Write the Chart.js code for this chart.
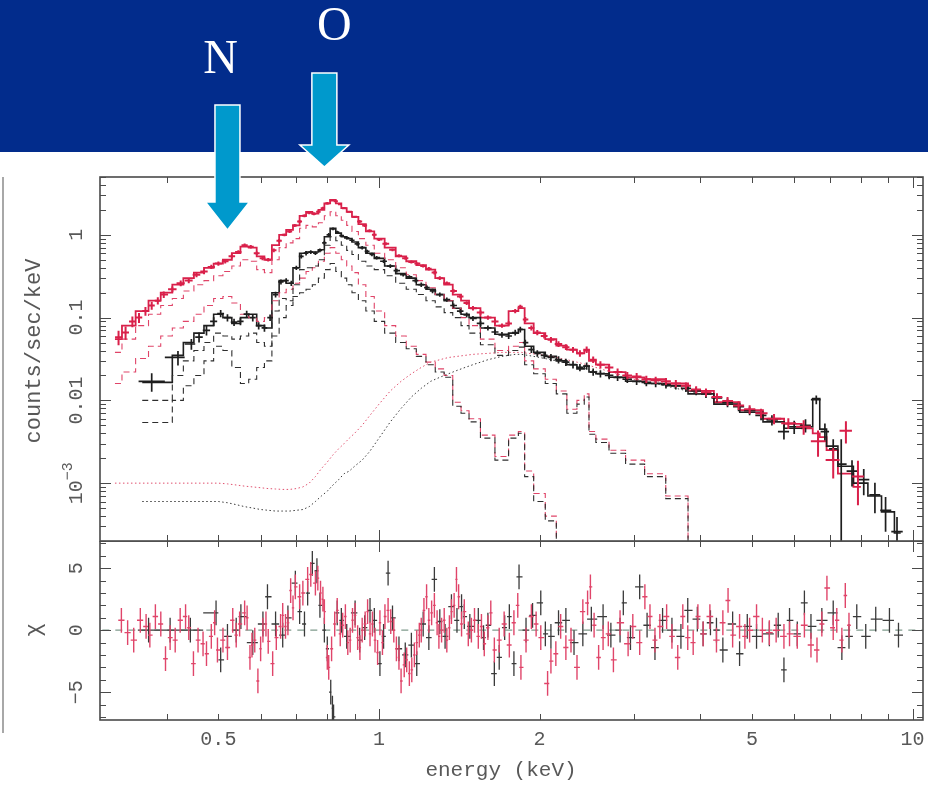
<!DOCTYPE html>
<html>
<head>
<meta charset="utf-8">
<script src="https://cdn.jsdelivr.net/npm/chart.js@4.4.1/dist/chart.umd.min.js"></script>
<style>
  body { margin: 0; background: #fff; width: 928px; height: 787px; overflow: hidden; position: relative; }
  #banner { position: absolute; left: 0; top: 0; width: 928px; height: 152px; background: #022c8c; }
  #edge { position: absolute; left: 2px; top: 177px; width: 2px; height: 556px; background: #a8a8a8; }
  canvas { position: absolute; left: 0; }
  #spec { top: 0; }
  #resid { top: 541px; }
</style>
</head>
<body>
<div id="banner"></div>
<div id="edge"></div>
<canvas id="spec" width="928" height="542"></canvas>
<canvas id="resid" width="928" height="246"></canvas>
<script>
// model grid (keV) shared by all model curves
const modelE = [0.32,0.34,0.36,0.38,0.40,0.42,0.44,0.46,0.48,0.50,
  0.52,0.54,0.56,0.58,0.60,0.62,0.64,0.66,0.68,0.70,
  0.72,0.74,0.76,0.78,0.80,0.82,0.84,0.86,0.88,0.90,
  0.93,0.96,1.00,1.05,1.10,1.15,1.20,1.25,1.30,1.35,
  1.40,1.45,1.50,1.60,1.70,1.80,1.85,1.90,2.00,2.10,
  2.20,2.30,2.40,2.45,2.50,2.60,2.80,3.00,3.30,3.60,
  4.00,4.50,5.00,5.50,6.00,6.40,6.60,6.80,7.00,7.50,
  8.00,8.50,9.00,9.50];

const redTotal = [0.055,0.08,0.12,0.16,0.2,0.25,0.3,0.35,0.4,0.45,
  0.5,0.6,0.72,0.7,0.55,0.5,0.75,1.0,1.15,1.3,
  1.7,1.9,1.8,2.0,2.4,2.65,2.4,2.1,1.9,1.65,
  1.35,1.1,0.9,0.7,0.55,0.48,0.43,0.38,0.3,0.25,
  0.19,0.16,0.13,0.1,0.08,0.12,0.13,0.085,0.065,0.055,
  0.046,0.041,0.037,0.04,0.03,0.027,0.022,0.019,0.018,0.016,
  0.013,0.0095,0.0076,0.006,0.0052,0.0046,0.004,0.0036,0.0025,0.0013,
  0.0009,null,null,null];
const redMid = [0.038,0.055,0.08,0.11,0.14,0.17,0.21,0.25,0.28,0.32,
  0.36,0.42,0.5,0.48,0.38,0.35,0.5,0.7,0.8,0.9,
  1.2,1.3,1.25,1.4,1.7,1.9,1.7,1.5,1.3,1.1,
  0.9,0.75,0.6,0.5,0.4,0.33,0.28,0.23,0.19,0.16,
  0.13,0.1,0.08,0.055,0.04,0.045,0.05,0.03,0.024,0.018,
  0.013,0.0078,0.01,0.012,0.0042,0.0034,0.0025,0.0019,0.0013,0.0007,
  0.00018,null,null,null,null,null,null,null,null,null,
  null,null,null,null];
const redSoft = [0.016,0.022,0.032,0.045,0.06,0.075,0.09,0.11,0.14,0.17,
  0.18,0.15,0.11,0.1,0.09,0.1,0.16,0.2,0.22,0.26,
  0.3,0.36,0.4,0.48,0.6,0.7,0.6,0.5,0.42,0.35,
  0.25,0.18,0.12,0.08,0.06,0.045,0.036,0.029,0.024,0.02,
  0.0095,0.0075,0.006,0.0038,0.0021,0.0038,0.0042,0.0014,0.00075,0.0004,
  0.00017,null,null,null,null,null,null,null,null,null,
  null,null,null,null,null,null,null,null,null,null,
  null,null,null,null];
const redHot = [0.001,0.001,0.001,0.001,0.001,0.001,0.001,0.001,0.001,0.001,
  0.00098,0.00095,0.00092,0.0009,0.00088,0.00086,0.00085,0.00084,0.00084,0.00086,
  0.0009,0.001,0.0012,0.0015,0.0018,0.0022,0.0026,0.003,0.0035,0.004,
  0.005,0.0065,0.009,0.013,0.017,0.021,0.025,0.029,0.031,0.033,
  0.034,0.035,0.036,0.037,0.038,0.038,0.038,0.037,0.036,0.034,
  0.032,0.03,0.028,0.027,0.026,0.024,0.021,0.018,0.017,0.015,
  0.012,null,null,null,null,null,null,null,null,null,
  null,null,null,null];

const blackTotal = [null,null,0.0165,0.0165,0.0165,0.035,0.05,0.065,0.08,0.11,
  0.1,0.085,0.1,0.11,0.08,0.075,0.2,0.28,0.26,0.4,
  0.6,0.62,0.62,0.66,0.95,1.2,1.05,0.95,0.9,0.82,
  0.7,0.6,0.52,0.42,0.34,0.3,0.25,0.22,0.19,0.16,
  0.13,0.11,0.1,0.075,0.063,0.065,0.072,0.045,0.038,0.034,
  0.03,0.027,0.024,0.026,0.022,0.021,0.019,0.017,0.016,0.015,
  0.012,0.009,0.0072,0.0055,0.0046,0.0048,0.0105,0.0045,0.0028,0.0016,
  0.001,0.0007,0.00045,0.00025];
const blackMid = [null,null,0.01,0.01,0.01,0.02,0.03,0.04,0.05,0.065,
  0.06,0.055,0.06,0.065,0.05,0.045,0.12,0.17,0.16,0.25,
  0.38,0.4,0.42,0.5,0.75,0.95,0.85,0.75,0.65,0.58,
  0.48,0.42,0.38,0.32,0.26,0.22,0.19,0.16,0.135,0.115,
  0.1,0.08,0.065,0.047,0.035,0.04,0.044,0.027,0.021,0.016,
  0.012,0.007,0.009,0.011,0.0039,0.0031,0.0023,0.0017,0.0012,0.00065,
  0.00016,null,null,null,null,null,null,null,null,null,
  null,null,null,null];
const blackSoft = [null,null,0.0054,0.0054,0.0054,0.01,0.015,0.02,0.03,0.045,
  0.04,0.025,0.016,0.018,0.025,0.03,0.06,0.1,0.14,0.18,
  0.2,0.22,0.25,0.3,0.38,0.45,0.36,0.3,0.25,0.2,
  0.16,0.12,0.09,0.065,0.05,0.042,0.034,0.027,0.022,0.019,
  0.0085,0.007,0.0055,0.0035,0.0019,0.0035,0.004,0.0012,0.0006,0.00035,
  0.00015,null,null,null,null,null,null,null,null,null,
  null,null,null,null,null,null,null,null,null,null,
  null,null,null,null];
const blackHot = [null,null,0.0006,0.0006,0.0006,0.0006,0.0006,0.0006,0.0006,0.0006,
  0.00058,0.00055,0.00052,0.0005,0.00048,0.00047,0.00046,0.00046,0.00046,0.00047,
  0.00048,0.00052,0.0006,0.0007,0.0008,0.00095,0.0011,0.0013,0.0014,0.0016,
  0.0019,0.0024,0.0035,0.0055,0.008,0.011,0.014,0.017,0.019,0.021,
  0.023,0.025,0.027,0.031,0.034,0.036,0.036,0.035,0.033,0.031,
  0.029,0.027,0.025,0.024,0.023,0.022,0.019,0.017,0.016,0.014,
  0.012,null,null,null,null,null,null,null,null,null,
  null,null,null,null];

// binned counts with relative errors
const redE = [0.325,0.335,0.345,0.355,0.365,0.375,0.385,0.395,0.41,0.425,
  0.44,0.455,0.47,0.485,0.50,0.515,0.53,0.545,0.56,0.575,
  0.59,0.605,0.62,0.635,0.65,0.665,0.68,0.695,0.71,0.725,
  0.74,0.755,0.77,0.785,0.80,0.815,0.83,0.845,0.86,0.88,
  0.90,0.92,0.94,0.96,0.98,1.00,1.03,1.06,1.09,1.12,
  1.15,1.18,1.21,1.24,1.27,1.30,1.34,1.38,1.42,1.46,
  1.50,1.55,1.60,1.65,1.70,1.75,1.80,1.84,1.88,1.93,
  1.98,2.04,2.10,2.17,2.24,2.31,2.38,2.45,2.52,2.60,
  2.70,2.80,2.92,3.04,3.17,3.30,3.45,3.60,3.76,3.93,
  4.10,4.30,4.50,4.72,4.95,5.20,5.50,5.85,6.25,6.65,
  7.10,7.50,7.90];
const redCts = [0.058,0.066,0.09,0.1,0.12,0.14,0.16,0.19,0.22,0.26,
  0.28,0.33,0.36,0.41,0.45,0.48,0.55,0.62,0.75,0.72,
  0.6,0.52,0.5,0.65,0.85,1.0,1.1,1.3,1.45,1.7,
  1.85,1.8,1.9,2.1,2.4,2.6,2.55,2.35,2.1,1.9,
  1.65,1.45,1.3,1.12,1.0,0.88,0.78,0.66,0.56,0.52,
  0.47,0.45,0.42,0.39,0.35,0.3,0.26,0.21,0.18,0.15,
  0.13,0.115,0.1,0.09,0.08,0.085,0.12,0.135,0.095,0.075,
  0.066,0.06,0.054,0.048,0.044,0.041,0.037,0.041,0.031,0.027,
  0.025,0.022,0.02,0.0195,0.018,0.0175,0.017,0.016,0.015,0.0135,
  0.0125,0.011,0.0098,0.0087,0.0078,0.007,0.006,0.0053,0.0048,0.0032,
  0.0019,0.0043,0.0012];
const redErr = [0.2,0.18,0.15,0.14,0.12,0.11,0.1,0.09,0.08,0.08,
  0.07,0.07,0.07,0.06,0.06,0.06,0.06,0.05,0.05,0.05,
  0.05,0.05,0.05,0.05,0.05,0.04,0.04,0.04,0.04,0.04,
  0.04,0.04,0.04,0.04,0.04,0.03,0.03,0.03,0.03,0.03,
  0.03,0.04,0.04,0.04,0.04,0.04,0.04,0.04,0.04,0.04,
  0.04,0.04,0.04,0.05,0.05,0.05,0.05,0.05,0.05,0.05,
  0.06,0.06,0.06,0.06,0.06,0.06,0.06,0.06,0.07,0.07,
  0.07,0.07,0.08,0.08,0.08,0.08,0.09,0.09,0.09,0.1,
  0.1,0.1,0.1,0.1,0.1,0.1,0.1,0.1,0.1,0.1,
  0.11,0.11,0.12,0.12,0.12,0.13,0.14,0.15,0.2,0.35,
  0.4,0.3,0.55];

const blackE = [0.375,0.42,0.445,0.46,0.475,0.49,0.505,0.52,0.535,0.55,
  0.565,0.58,0.595,0.61,0.625,0.64,0.655,0.67,0.685,0.70,
  0.715,0.73,0.745,0.76,0.775,0.79,0.805,0.82,0.835,0.85,
  0.87,0.89,0.91,0.93,0.95,0.97,0.99,1.02,1.05,1.08,
  1.11,1.14,1.17,1.20,1.23,1.26,1.30,1.34,1.38,1.42,
  1.46,1.50,1.55,1.60,1.65,1.70,1.75,1.80,1.84,1.88,
  1.93,1.98,2.04,2.10,2.17,2.24,2.31,2.38,2.45,2.52,
  2.60,2.70,2.80,2.92,3.04,3.17,3.30,3.45,3.60,3.76,
  3.93,4.10,4.30,4.50,4.72,4.95,5.20,5.45,5.74,6.00,
  6.30,6.60,6.85,7.10,7.35,7.70,8.10,8.50,8.90,9.35];
const blackCts = [0.017,0.033,0.048,0.058,0.07,0.09,0.112,0.1,0.088,0.09,
  0.11,0.1,0.08,0.075,0.1,0.19,0.27,0.28,0.26,0.4,
  0.55,0.6,0.62,0.6,0.65,0.8,1.0,1.18,1.08,0.98,
  0.92,0.86,0.78,0.7,0.63,0.58,0.53,0.48,0.42,0.37,
  0.33,0.31,0.28,0.25,0.23,0.21,0.19,0.165,0.14,0.12,
  0.108,0.098,0.085,0.075,0.067,0.062,0.06,0.066,0.072,0.05,
  0.041,0.037,0.035,0.033,0.031,0.029,0.027,0.025,0.026,0.022,
  0.021,0.02,0.019,0.018,0.017,0.0165,0.016,0.0155,0.015,0.014,
  0.013,0.012,0.0107,0.0094,0.0084,0.0075,0.0066,0.0058,0.0042,0.0048,
  0.005,0.0102,0.0042,0.0026,0.0017,0.0014,0.0011,0.00072,0.00047,0.00026];
const blackErr = [0.25,0.2,0.15,0.14,0.13,0.12,0.1,0.1,0.1,0.1,
  0.1,0.1,0.1,0.1,0.09,0.08,0.07,0.07,0.07,0.06,
  0.06,0.06,0.05,0.05,0.05,0.05,0.05,0.04,0.04,0.04,
  0.04,0.04,0.05,0.05,0.05,0.05,0.05,0.05,0.05,0.05,
  0.05,0.05,0.05,0.06,0.06,0.06,0.06,0.06,0.06,0.06,
  0.07,0.07,0.07,0.07,0.07,0.08,0.08,0.08,0.08,0.08,
  0.09,0.09,0.09,0.1,0.1,0.1,0.1,0.1,0.1,0.1,
  0.1,0.1,0.1,0.1,0.1,0.1,0.1,0.1,0.1,0.1,
  0.11,0.11,0.11,0.12,0.12,0.12,0.13,0.14,0.2,0.18,
  0.18,0.12,0.25,0.3,0.99,0.35,0.35,0.4,0.45,0.5];

// residuals in units of sigma
const redResE = [0.329,0.338,0.347,0.357,0.366,0.372,0.381,0.39,0.398,0.406,
  0.415,0.424,0.434,0.44,0.449,0.458,0.468,0.475,0.485,0.492,
  0.498,0.51,0.52,0.532,0.54,0.548,0.56,0.566,0.573,0.578,
  0.585,0.593,0.6,0.606,0.614,0.62,0.632,0.642,0.654,0.66,
  0.668,0.675,0.683,0.69,0.697,0.71,0.72,0.735,0.745,0.76,
  0.768,0.777,0.785,0.79,0.8,0.805,0.815,0.826,0.835,0.846,
  0.855,0.865,0.874,0.883,0.892,0.902,0.912,0.921,0.93,0.942,
  0.952,0.962,0.972,0.983,0.994,1.004,1.015,1.026,1.04,1.052,
  1.066,1.078,1.09,1.1,1.115,1.127,1.14,1.152,1.165,1.177,
  1.19,1.2,1.214,1.228,1.24,1.255,1.27,1.285,1.295,1.31,
  1.325,1.34,1.355,1.367,1.383,1.397,1.41,1.428,1.445,1.47,
  1.49,1.51,1.535,1.556,1.575,1.6,1.62,1.645,1.68,1.716,
  1.755,1.79,1.82,1.845,1.886,1.93,1.97,2.01,2.07,2.1,
  2.145,2.19,2.24,2.29,2.35,2.41,2.46,2.49,2.53,2.58,
  2.63,2.69,2.75,2.83,2.93,2.99,3.08,3.15,3.22,3.29,
  3.36,3.46,3.54,3.63,3.71,3.79,3.88,3.96,4.05,4.17,
  4.29,4.41,4.51,4.6,4.74,4.85,4.95,5.1,5.23,5.39,
  5.55,5.74,5.88,6.08,6.27,6.45,6.62,6.76,6.91,7.1,
  7.21,7.37,7.48,7.6];
const redResChi = [0.8,-0.2,-0.8,0.8,0.3,-0.4,1.1,0.5,-2.3,-0.6,
  -0.8,0.8,1.1,0.2,-2.7,-0.8,-1.1,-1.9,-0.5,0.6,
  -1.6,-0.8,-1.4,0.8,-0.4,0.5,1.4,1.0,-2.2,-1.2,
  -0.8,-4.1,-1.5,0,0.5,-0.9,-2.7,-0.6,0.3,1.2,
  0.3,0.6,3.2,1.8,3.5,2.7,3.0,4.1,4.5,3.8,
  4.2,3.0,2.5,1.5,-2.2,-3.0,-1.5,0.5,1.6,-0.3,
  0.4,1.1,-1.0,-0.8,0.8,1.2,-0.6,-1.4,0,0.5,
  1.5,-0.3,0.5,-0.8,-1.8,0.6,-1.0,1.1,1.6,0.7,
  0,-1.5,-2.2,-4.1,-2.8,-2.4,-3.5,-3.2,-2.0,-1.0,
  -0.4,0,1.6,2.7,0.8,1.4,2.0,0.6,-0.5,0,
  0.8,-0.8,0.2,1.5,2.0,4.1,2.7,0.5,1.5,-0.3,
  0,0.8,-0.5,0.3,-1.1,0.2,1.4,-1.6,-0.8,0.5,
  -1.2,0.6,2.0,-3.0,-0.8,1.1,0.5,-0.6,-4.3,-2.5,
  -1.9,0.3,-1.4,-0.8,-3.0,1.5,2.2,3.5,0.4,-2.2,
  -0.6,-0.3,-2.4,0.6,-1.1,0.3,-1.0,2.7,1.1,-0.8,
  0.3,1.1,-0.5,-2.2,1.1,-0.6,-1.0,1.1,-0.3,1.1,
  -0.8,0.6,2.4,-0.4,0.3,-0.5,0,1.1,0,-0.2,
  0,-0.5,-0.3,-0.5,0.4,-1.2,-1.6,0.5,3.4,0.2,
  0.8,-0.8,2.8,0.4];

const blackResE = [0.37,0.406,0.443,0.495,0.505,0.52,0.54,0.551,0.58,0.606,
  0.618,0.64,0.66,0.675,0.697,0.71,0.725,0.735,0.75,0.765,
  0.775,0.79,0.8,0.812,0.818,0.822,0.835,0.85,0.87,0.902,
  0.92,0.94,0.962,0.98,1.004,1.02,1.04,1.06,1.09,1.12,
  1.15,1.177,1.21,1.24,1.27,1.3,1.33,1.367,1.4,1.428,
  1.445,1.48,1.535,1.57,1.6,1.645,1.68,1.72,1.755,1.79,
  1.83,1.886,1.94,2.01,2.05,2.1,2.17,2.24,2.32,2.41,
  2.5,2.63,2.72,2.83,2.87,2.96,3.08,3.18,3.29,3.4,
  3.54,3.68,3.79,3.95,4.05,4.18,4.29,4.41,4.6,4.74,
  4.9,5.1,5.39,5.6,5.74,5.88,6.08,6.27,6.45,6.76,
  7.1,7.37,7.6,7.86,8.17,8.53,9.05,9.41];
const blackResChi = [0,0,0,1.4,-2.4,-0.5,0,1.1,-1.0,0.5,
  2.7,0.5,-0.4,1.0,3.8,1.5,0.5,3.0,5.4,4.8,
  2.0,0,-1.5,-5.0,-6.3,-7.0,1.4,0.8,-0.5,1.4,
  -0.8,0.2,1.6,0.8,-2.7,-0.5,4.6,1.0,-1.5,-2.0,
  -1.2,-2.7,0.5,-0.6,4.1,0.7,-0.5,1.9,0.8,1.9,
  1.1,0.3,0.8,-0.6,0.4,-3.5,-2.2,0.2,1.1,-2.7,
  4.3,0,1.2,2.2,-0.3,-0.5,0.6,0.8,-1.0,-0.3,
  0.9,1.1,-0.4,0,2.2,-0.6,3.5,0.4,-1.4,0.8,
  0,-0.5,1.6,0.9,-0.3,0.6,0,-1.6,0.5,-1.9,
  0.3,-0.5,-0.3,0.4,-3.2,0.8,-0.3,2.2,0.3,0.8,
  1.4,-1.4,-0.5,1.1,-0.5,0.9,0.8,-0.4];

// line identifications marked above the spectrum
const lineNames = ['N', 'O'];
const lineEnergy = [0.52, 0.79];

// axis ranges
const E_MIN = 0.303, E_MAX = 10.46;
const RATE_MIN = 2e-4, RATE_MAX = 5;
const CHI_MIN = -7.25, CHI_MAX = 7.2;

const FONT = '"Liberation Mono", "DejaVu Sans Mono", monospace';
const INK = '#4a4a4a';
const TEXT = '#585858';
const RED = '#d9204a';
const BLACK = '#1e1e1e';

const pairs = (xs, ys) => xs.map((x, i) => ({ x, y: ys[i] }));
const countPoints = (xs, ys, err) => xs.map((x, i) => ({
  x, y: ys[i], lo: Math.max(ys[i] * (1 - err[i]), 1e-6), hi: ys[i] * (1 + err[i])
}));
const chiPoints = (xs, ys) => xs.map((x, i) => ({ x, y: ys[i], lo: ys[i] - 1, hi: ys[i] + 1 }));

// data crosses: horizontal bar spans half way to each neighbouring bin
const crossPlugin = {
  id: 'crosses',
  afterDatasetsDraw(chart) {
    const { ctx, chartArea: a } = chart;
    const xs = chart.scales.x, ys = chart.scales.y;
    ctx.save();
    ctx.beginPath();
    ctx.rect(a.left, a.top, a.width, a.height);
    ctx.clip();
    chart.data.datasets.forEach(ds => {
      if (!ds.crosses) return;
      const pts = ds.data;
      const px = pts.map(p => xs.getPixelForValue(p.x));
      ctx.strokeStyle = ds.borderColor;
      ctx.lineWidth = ds.crossWidth;
      ctx.beginPath();
      pts.forEach((p, i) => {
        const l = i > 0 ? (px[i] + px[i - 1]) / 2 : px[i] - (px[i + 1] - px[i]) / 2;
        const r = i < pts.length - 1 ? (px[i] + px[i + 1]) / 2 : px[i] + (px[i] - px[i - 1]) / 2;
        const py = ys.getPixelForValue(p.y);
        ctx.moveTo(l, py);
        ctx.lineTo(r, py);
        ctx.moveTo(px[i], ys.getPixelForValue(p.lo));
        ctx.lineTo(px[i], ys.getPixelForValue(p.hi));
      });
      ctx.stroke();
    });
    ctx.restore();
  }
};

function rotatedText(ctx, text, x, y, size) {
  ctx.save();
  ctx.translate(x, y);
  ctx.rotate(-Math.PI / 2);
  ctx.font = size + 'px ' + FONT;
  ctx.textAlign = 'center';
  ctx.textBaseline = 'middle';
  ctx.fillText(text, 0, 0);
  ctx.restore();
}

// boxed frame with inward ticks on all four sides, plus labels
function framePlugin(cfg) {
  return {
    id: 'frame_' + cfg.name,
    afterDraw(chart) {
      const { ctx, chartArea: a } = chart;
      const xs = chart.scales.x, ys = chart.scales.y;
      ctx.save();
      ctx.strokeStyle = INK;
      ctx.lineWidth = 1;
      ctx.beginPath();
      cfg.xTicks.forEach(([v, len]) => {
        const px = Math.round(xs.getPixelForValue(v)) + 0.5;
        ctx.moveTo(px, a.top); ctx.lineTo(px, a.top + len);
        ctx.moveTo(px, a.bottom); ctx.lineTo(px, a.bottom - len);
      });
      cfg.yTicks.forEach(([v, len]) => {
        const py = Math.round(ys.getPixelForValue(v)) + 0.5;
        ctx.moveTo(a.left, py); ctx.lineTo(a.left + len, py);
        ctx.moveTo(a.right, py); ctx.lineTo(a.right - len, py);
      });
      ctx.stroke();
      ctx.lineWidth = 1.6;
      ctx.strokeRect(a.left, a.top, a.width, a.height);

      ctx.fillStyle = TEXT;
      cfg.yLabels.forEach(([v, main, sup]) => {
        const py = ys.getPixelForValue(v);
        if (!sup) { rotatedText(ctx, main, 77, py, 20); return; }
        ctx.save();
        ctx.translate(77, py);
        ctx.rotate(-Math.PI / 2);
        ctx.textBaseline = 'middle';
        ctx.textAlign = 'left';
        ctx.font = '20px ' + FONT;
        const w1 = ctx.measureText(main).width;
        ctx.font = '15px ' + FONT;
        const w2 = ctx.measureText(sup).width;
        const x0 = -(w1 + w2) / 2;
        ctx.font = '20px ' + FONT;
        ctx.fillText(main, x0, 0);
        ctx.font = '15px ' + FONT;
        ctx.fillText(sup, x0 + w1, -9);
        ctx.restore();
      });
      ctx.font = '20px ' + FONT;
      ctx.textAlign = 'center';
      ctx.textBaseline = 'middle';
      cfg.xLabels.forEach(([v, t]) => ctx.fillText(t, xs.getPixelForValue(v), a.bottom + 20));
      if (cfg.xTitle) {
        ctx.font = '21px ' + FONT;
        ctx.fillText(cfg.xTitle, 501, a.bottom + 50);
      }
      rotatedText(ctx, cfg.yTitle, 34, cfg.yTitleY, 22);
      ctx.restore();
    }
  };
}

// arrows and element names in the header band
const markerPlugin = {
  id: 'markers',
  afterDraw(chart) {
    const { ctx } = chart;
    const xs = chart.scales.x;
    const shapes = [
      { top: 105, headTop: 202, tip: 230, shaft: 25, head: 44, dx: -7, base: 73 },
      { top: 73, headTop: 145, tip: 167, shaft: 25, head: 49, dx: 10, base: 40 }
    ];
    ctx.save();
    lineNames.forEach((name, i) => {
      const s = shapes[i];
      const xc = xs.getPixelForValue(lineEnergy[i]);
      ctx.beginPath();
      ctx.moveTo(xc - s.shaft / 2, s.top);
      ctx.lineTo(xc + s.shaft / 2, s.top);
      ctx.lineTo(xc + s.shaft / 2, s.headTop);
      ctx.lineTo(xc + s.head / 2, s.headTop);
      ctx.lineTo(xc, s.tip);
      ctx.lineTo(xc - s.head / 2, s.headTop);
      ctx.lineTo(xc - s.shaft / 2, s.headTop);
      ctx.closePath();
      ctx.fillStyle = '#0099cc';
      ctx.fill();
      ctx.strokeStyle = '#ffffff';
      ctx.lineWidth = 1.5;
      ctx.stroke();
      ctx.fillStyle = '#ffffff';
      ctx.font = '48px "Liberation Serif", "DejaVu Serif", serif';
      ctx.textAlign = 'center';
      ctx.textBaseline = 'alphabetic';
      ctx.fillText(name, xc + s.dx, s.base);
    });
    ctx.restore();
  }
};

const xTickValues = [0.4, 0.5, 0.6, 0.7, 0.8, 0.9, 1, 2, 3, 4, 5, 6, 7, 8, 9, 10];
const xTicks = xTickValues.map(v => [v, (v === 1 || v === 10) ? 11 : 6]);
const rateTicks = [];
[-4, -3, -2, -1, 0].forEach(d => {
  for (let m = 1; m <= 9; m++) {
    const v = m * Math.pow(10, d);
    if (v >= RATE_MIN && v <= RATE_MAX) rateTicks.push([v, m === 1 ? 11 : 6]);
  }
});
const chiTicks = [];
for (let v = -7; v <= 7; v++) chiTicks.push([v, v % 5 === 0 ? 11 : 6]);

function modelLine(values, color, width, dash, stepped) {
  return {
    data: pairs(modelE, values), borderColor: color, borderWidth: width,
    borderDash: dash, stepped: stepped, pointRadius: 0, fill: false, spanGaps: false
  };
}
function crossSet(points, color, width) {
  return { data: points, borderColor: color, crossWidth: width, showLine: false, pointRadius: 0, crosses: true };
}

const baseOptions = (padding, yScale) => ({
  responsive: false,
  animation: false,
  events: [],
  layout: { padding },
  plugins: { legend: { display: false }, tooltip: { enabled: false } },
  elements: { line: { tension: 0 }, point: { radius: 0 } },
  scales: {
    x: { type: 'logarithmic', min: E_MIN, max: E_MAX, display: false },
    y: yScale
  }
});

new Chart(document.getElementById('spec'), {
  type: 'line',
  data: {
    datasets: [
      modelLine(blackHot, '#3a3a3a', 1, [1.5, 2.5], false),
      modelLine(redHot, '#e0506e', 1, [1.5, 2.5], false),
      modelLine(blackSoft, '#2e2e2e', 1.1, [6, 4], 'middle'),
      modelLine(blackMid, '#2e2e2e', 1.1, [6, 4], 'middle'),
      modelLine(redSoft, '#e04468', 1.1, [6, 4], 'middle'),
      modelLine(redMid, '#e04468', 1.1, [6, 4], 'middle'),
      modelLine(blackTotal, BLACK, 1.6, [], 'middle'),
      modelLine(redTotal, RED, 1.8, [], 'middle'),
      crossSet(countPoints(blackE, blackCts, blackErr), BLACK, 1.7),
      crossSet(countPoints(redE, redCts, redErr), RED, 2)
    ]
  },
  options: baseOptions({ left: 100, right: 5, top: 177, bottom: 1 },
    { type: 'logarithmic', min: RATE_MIN, max: RATE_MAX, display: false }),
  plugins: [crossPlugin, framePlugin({
    name: 'spec', xTicks, yTicks: rateTicks,
    yLabels: [[1, '1'], [0.1, '0.1'], [0.01, '0.01'], [0.001, '10', '\u22123']],
    xLabels: [], yTitle: 'counts/sec/keV', yTitleY: 351
  }), markerPlugin]
});

new Chart(document.getElementById('resid'), {
  type: 'line',
  data: {
    datasets: [
      { data: [{ x: E_MIN, y: 0 }, { x: E_MAX, y: 0 }], borderColor: '#7f9a8c', borderWidth: 1.2,
        borderDash: [7, 6], pointRadius: 0, fill: false },
      crossSet(chiPoints(blackResE, blackResChi), '#3a3a3a', 1.3),
      crossSet(chiPoints(redResE, redResChi), '#e0456a', 1.4)
    ]
  },
  options: baseOptions({ left: 100, right: 5, top: 0, bottom: 67 },
    { type: 'linear', min: CHI_MIN, max: CHI_MAX, display: false }),
  plugins: [crossPlugin, framePlugin({
    name: 'resid', xTicks, yTicks: chiTicks,
    yLabels: [[5, '5'], [0, '0'], [-5, '\u22125']],
    xLabels: [[0.5, '0.5'], [1, '1'], [2, '2'], [5, '5'], [10, '10']],
    xTitle: 'energy (keV)', yTitle: '\u03c7', yTitleY: 89
  })]
});
</script>
</body>
</html>
